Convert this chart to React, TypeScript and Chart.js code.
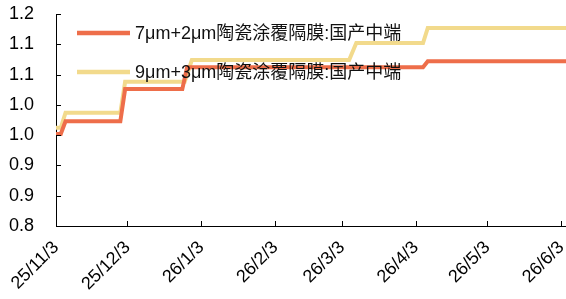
import { useEffect, useRef } from 'react';
import { Chart, registerables } from 'chart.js';

Chart.register(...registerables);

const seriesNames = ['7μm+2μm陶瓷涂覆隔膜:国产中端', '9μm+3μm陶瓷涂覆隔膜:国产中端'];
const seriesColors = ['#EE6E4A', '#F2DA8C'];

const dates7 = ['2025-11-03', '2025-11-05', '2025-11-07', '2025-11-30', '2025-12-02', '2025-12-26', '2025-12-28', '2026-04-06', '2026-04-08', '2026-06-05'];
const values7 = [0.952, 0.952, 0.973, 0.973, 1.026, 1.026, 1.062, 1.062, 1.072, 1.072];

const dates9 = ['2025-11-03', '2025-11-05', '2025-11-07', '2025-11-30', '2025-12-02', '2025-12-27', '2025-12-30', '2026-03-06', '2026-03-09', '2026-04-06', '2026-04-08', '2026-06-05'];
const values9 = [0.962, 0.962, 0.987, 0.987, 1.038, 1.038, 1.074, 1.074, 1.102, 1.102, 1.127, 1.127];

const xTickDates = ['2025-11-03', '2025-12-03', '2026-01-03', '2026-02-03', '2026-03-03', '2026-04-03', '2026-05-03', '2026-06-03'];
const xTickLabels = ['25/11/3', '25/12/3', '26/1/3', '26/2/3', '26/3/3', '26/4/3', '26/5/3', '26/6/3'];
const xStartDate = '2025-11-03';
const xEndDate = '2026-06-05';

const yMin = 0.8;
const yMax = 1.15;
const yStep = 0.05;

const FONT = '"Liberation Sans", Arial, "Noto Sans CJK SC", sans-serif';

const dayOf = (s: string) => {
  const [y, m, d] = s.split('-').map(Number);
  const [y0, m0, d0] = xStartDate.split('-').map(Number);
  return (Date.UTC(y, m - 1, d) - Date.UTC(y0, m0 - 1, d0)) / 86400000;
};

const fmtY = (v: number) => (Math.round(v * 10 + 1e-6) / 10).toFixed(1);

const innerTicks = {
  id: 'innerTicks',
  afterDraw(chart: any) {
    const { ctx, chartArea } = chart;
    const xs = chart.scales.x;
    const ys = chart.scales.y;
    ctx.save();
    ctx.strokeStyle = '#000';
    ctx.lineWidth = 1;
    ctx.beginPath();
    ys.ticks.forEach((t: any) => {
      const y = Math.round(ys.getPixelForValue(t.value)) + 0.5;
      ctx.moveTo(chartArea.left, y);
      ctx.lineTo(chartArea.left + 5, y);
    });
    xs.ticks.forEach((t: any) => {
      const x = Math.round(xs.getPixelForValue(t.value)) + 0.5;
      ctx.moveTo(x, chartArea.bottom);
      ctx.lineTo(x, chartArea.bottom - 5);
    });
    ctx.stroke();
    ctx.restore();
  },
};

const legendPlugin = {
  id: 'customLegend',
  afterDatasetsDraw(chart: any) {
    const { ctx, chartArea } = chart;
    ctx.save();
    chart.data.datasets.forEach((ds: any, i: number) => {
      const y = chartArea.top + 19 + i * 39;
      const x0 = chartArea.left + 21;
      ctx.strokeStyle = ds.borderColor;
      ctx.lineWidth = 4.5;
      ctx.lineCap = 'butt';
      ctx.beginPath();
      ctx.moveTo(x0, y);
      ctx.lineTo(x0 + 53, y);
      ctx.stroke();
      ctx.fillStyle = '#111';
      ctx.font = `18px ${FONT}`;
      ctx.textBaseline = 'middle';
      ctx.textAlign = 'left';
      ctx.fillText(ds.label, x0 + 58, y + 1);
    });
    ctx.restore();
  },
};

export default function App() {
  const ref = useRef<HTMLCanvasElement>(null);
  useEffect(() => {
    document.body.style.margin = '0';
    const tickVals = xTickDates.map(dayOf);
    const chart = new Chart(ref.current as HTMLCanvasElement, {
      type: 'line',
      data: {
        datasets: [
          {
            label: seriesNames[0],
            data: dates7.map((d, i) => ({ x: dayOf(d), y: values7[i] })),
            borderColor: seriesColors[0],
            backgroundColor: seriesColors[0],
            borderWidth: 4,
            pointRadius: 0,
            tension: 0,
          },
          {
            label: seriesNames[1],
            data: dates9.map((d, i) => ({ x: dayOf(d), y: values9[i] })),
            borderColor: seriesColors[1],
            backgroundColor: seriesColors[1],
            borderWidth: 4,
            pointRadius: 0,
            tension: 0,
          },
        ],
      },
      options: {
        animation: false,
        responsive: false,
        layout: { padding: { top: 14, left: 0, right: 0, bottom: 0 } },
        plugins: { legend: { display: false }, tooltip: { enabled: false } },
        scales: {
          x: {
            type: 'linear',
            min: 0,
            max: dayOf(xEndDate),
            afterBuildTicks: (scale: any) => {
              scale.ticks = tickVals.map((v) => ({ value: v }));
            },
            afterFit: (scale: any) => {
              scale.height = 73;
              scale.paddingLeft = 0;
              scale.paddingRight = 0;
            },
            grid: { display: true, drawOnChartArea: false, drawTicks: false },
            border: { display: true, color: '#000', width: 1 },
            ticks: {
              autoSkip: false,
              minRotation: 45,
              maxRotation: 45,
              padding: 11,
              color: '#000',
              font: { family: FONT, size: 18 },
              callback: (v: any) => {
                const idx = tickVals.indexOf(Number(v));
                return idx >= 0 ? xTickLabels[idx] : '';
              },
            },
          },
          y: {
            type: 'linear',
            min: yMin,
            max: yMax,
            afterFit: (scale: any) => {
              scale.width = 56;
              scale.paddingTop = 0;
              scale.paddingBottom = 0;
            },
            grid: { display: true, drawOnChartArea: false, drawTicks: false },
            border: { display: true, color: '#000', width: 1 },
            ticks: {
              stepSize: yStep,
              padding: 22,
              color: '#000',
              font: { family: FONT, size: 18 },
              callback: (v: any) => fmtY(Number(v)),
            },
          },
        },
      },
      plugins: [innerTicks, legendPlugin],
    });
    return () => chart.destroy();
  }, []);
  return (
    <div style={{ width: 566, height: 299 }}>
      <canvas ref={ref} width={566} height={299} />
    </div>
  );
}
